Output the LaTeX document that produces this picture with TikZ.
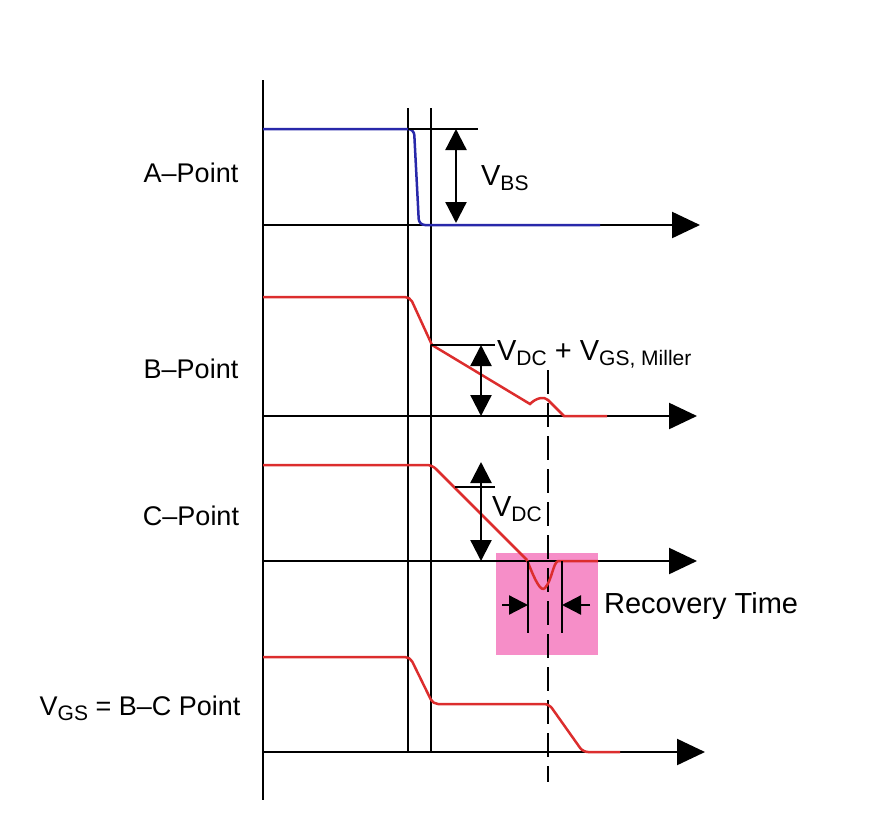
\documentclass[tikz,border=0pt]{standalone}
\usepackage{fontspec}
\setmainfont{Liberation Sans}
\usetikzlibrary{arrows.meta}
\definecolor{sigblue}{RGB}{40,40,170}
\definecolor{sigred}{RGB}{220,45,45}
\definecolor{boxpink}{RGB}{246,142,200}
\newcommand{\lowsub}[1]{\raisebox{-5pt}{\fontsize{21}{23}\selectfont #1}}
\begin{document}
\begin{tikzpicture}[x=1pt,y=-1pt,
  line width=2.3pt,
  axisline/.style={-{Triangle[length=28pt,width=26pt]}},
  dbl/.style={{Triangle[length=21pt,width=21pt]}-{Triangle[length=21pt,width=21pt]}},
  rec/.style={-{Triangle[length=19pt,width=19pt]}},
  bluesig/.style={sigblue, line width=2.5pt, rounded corners=6pt},
  redsig/.style={sigred, line width=2.5pt, rounded corners=5pt},
  lbl/.style={font=\fontsize{29}{34}\selectfont, inner sep=0pt},
  ptlbl/.style={font=\fontsize{27}{32}\selectfont, inner sep=0pt},
  guide/.style={line width=2.2pt},
  dashguide/.style={line width=2.6pt, dash pattern=on 24pt off 9pt}]
\useasboundingbox (0,0) rectangle (881,812);
% pink box
\fill[boxpink] (496,553) rectangle (598,655);
% main axis
\draw[guide] (263,80) -- (263,800);
% vertical guides
\draw[guide] (408,108) -- (408,752);
\draw[guide] (431,108) -- (431,752);
\draw[dashguide] (548,370) -- (548,782);
% time axes
\coordinate (a0) at (263,225); \coordinate (a1) at (700,225);
\coordinate (b0) at (263,416); \coordinate (b1) at (697,416);
\coordinate (c0) at (263,561); \coordinate (c1) at (697,561);
\coordinate (d0) at (263,752); \coordinate (d1) at (705,752);
\draw[axisline] (a0) -- (a1);
\draw[axisline] (b0) -- (b1);
\draw[axisline] (c0) -- (c1);
\draw[axisline] (d0) -- (d1);
% A signal
\draw[bluesig] (263,129) -- (414,129) -- (419,225) -- (600,225);
\draw[guide] (408,129) -- (478,129);
\coordinate (vbsT) at (456,129); \coordinate (vbsB) at (456,223);
\draw[dbl] (vbsT) -- (vbsB);
\node[lbl, anchor=west] (vbs) at (480,178) {V\lowsub{BS}};
% B signal
\draw[redsig] (263,297) -- (410,297) -- (432,345);
\draw[sigred, line width=2.5pt] (432,345) -- (530,404)
  .. controls (536,398) and (544,396) .. (548,400) -- (564,416) -- (607,416);
\draw[guide] (431,345) -- (495,345);
\coordinate (vbT) at (481,345); \coordinate (vbB) at (481,416);
\draw[dbl] (vbT) -- (vbB);
\node[lbl, anchor=west] (vb) at (496,354) {V\lowsub{DC} + V\lowsub{GS, Miller}};
% C signal
\draw[redsig] (263,465) -- (432,465) -- (527,560);
\draw[sigred, line width=2.5pt] (527,560) .. controls (536,583) and (541,592) .. (545,588)
  .. controls (552,580) and (553,563) .. (558,561) -- (598,561);
\draw[guide] (455,487) -- (495,487);
\coordinate (vcT) at (481,462); \coordinate (vcB) at (481,561);
\draw[dbl] (vcT) -- (vcB);
\node[lbl, anchor=west] (vc) at (491,509) {V\lowsub{DC}};
% recovery time
\draw[guide] (528,561) -- (528,633);
\draw[guide] (562,561) -- (562,633);
\coordinate (rl0) at (502,605); \coordinate (rl1) at (528,605);
\coordinate (rr0) at (590,605); \coordinate (rr1) at (562,605);
\draw[rec] (rl0) -- (rl1);
\draw[rec] (rr0) -- (rr1);
\node[lbl, anchor=west] (rt) at (603,606) {Recovery Time};
% VGS signal
\draw[redsig] (263,657) -- (410,657) -- (433,704) -- (549,704) -- (583,752) -- (620,752);
% labels
\node[ptlbl] (la) at (191,173) {A–Point};
\node[ptlbl] (lb) at (191,369) {B–Point};
\node[ptlbl] (lc) at (191,516) {C–Point};
\node[ptlbl] (ld) at (140,708) {V\lowsub{GS} = B–C Point};
\end{tikzpicture}
\end{document}
